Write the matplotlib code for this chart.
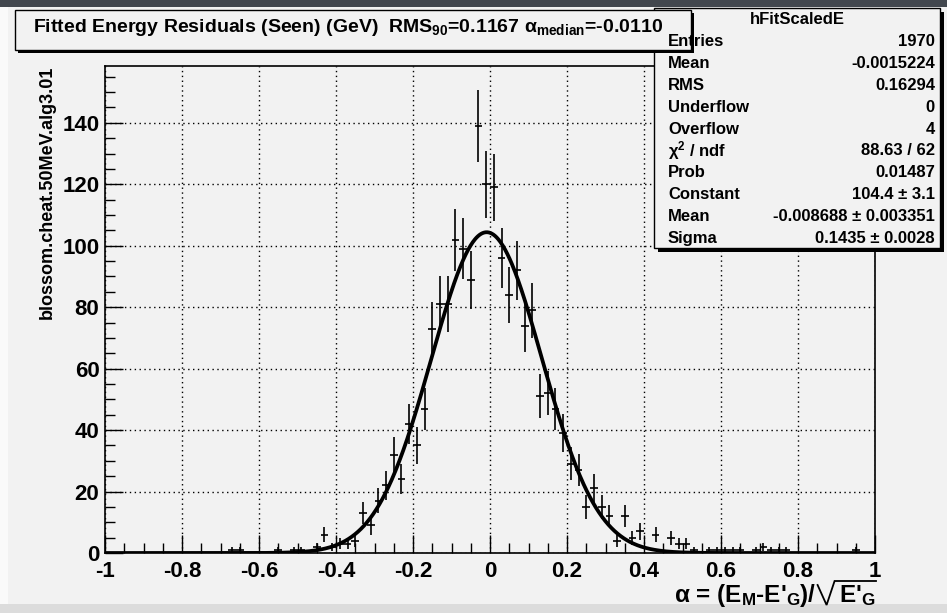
import matplotlib.pyplot as plt
import matplotlib.patches as patches
from matplotlib.ticker import MultipleLocator
import numpy as np

plt.rcParams['font.family'] = ['Liberation Sans', 'DejaVu Sans']
plt.rcParams['font.weight'] = 'bold'
plt.rcParams['mathtext.fontset'] = 'custom'
plt.rcParams['mathtext.rm'] = 'Liberation Sans:bold'
plt.rcParams['mathtext.bf'] = 'Liberation Sans:bold'
plt.rcParams['mathtext.it'] = 'Liberation Sans:bold'
plt.rcParams['mathtext.default'] = 'bf'

# histogram bins (only non-empty ones), bin width 0.02
bin_centers = [-0.67, -0.65, -0.55, -0.51, -0.49, -0.45, -0.43, -0.41, -0.39, -0.37,
               -0.35, -0.33, -0.31, -0.29, -0.27, -0.25, -0.23, -0.21, -0.19, -0.17,
               -0.15, -0.13, -0.11, -0.09, -0.07, -0.05, -0.03, -0.01, 0.01, 0.03,
               0.05, 0.07, 0.09, 0.11, 0.13, 0.15, 0.17, 0.19, 0.21, 0.23,
               0.25, 0.27, 0.29, 0.31, 0.33, 0.35, 0.37, 0.39, 0.43, 0.47,
               0.49, 0.51, 0.53, 0.57, 0.59, 0.61, 0.63, 0.65, 0.69, 0.71,
               0.73, 0.75, 0.77, 0.95]
counts = [1, 1, 1, 1, 1, 2, 6, 2, 3, 3,
          4, 13, 9, 17, 22, 32, 24, 42, 35, 47,
          73, 81, 81, 102, 99, 89, 139, 120, 119, 96,
          84, 92, 74, 79, 51, 52, 47, 39, 29, 27,
          15, 21, 15, 12, 4, 12, 5, 7, 6, 5,
          3, 3, 1, 1, 1, 1, 1, 1, 1, 2,
          1, 1, 1, 1]

# gaussian fit parameters
fit_constant = 104.4
fit_mean = -0.008688
fit_sigma = 0.1435

xtick_labels = ['-1', '-0.8', '-0.6', '-0.4', '-0.2', '0', '0.2', '0.4', '0.6', '0.8', '1']

stat_labels = ['Entries', 'Mean', 'RMS', 'Underflow', 'Overflow', r'$\chi^{2}$ / ndf',
               'Prob', 'Constant', 'Mean', 'Sigma']
stat_values = ['1970', '-0.0015224', '0.16294', '0', '4', '88.63 / 62',
               '0.01487', '104.4 \u00b1 3.1', '-0.008688 \u00b1 0.003351', '0.1435 \u00b1 0.0028']

bg = '#f2f2f2'
W, H = 947, 613
fig = plt.figure(figsize=(W / 100, H / 100), dpi=100, facecolor=bg)
ax = fig.add_axes([105 / W, 60 / H, 770 / W, 487 / H], facecolor=bg)

x = np.array(bin_centers)
y = np.array(counts, dtype=float)
ax.errorbar(x, y, xerr=0.01, yerr=np.sqrt(y), fmt='none', ecolor='black',
            elinewidth=1.2, capsize=0, zorder=3)

xs = np.linspace(-1, 1, 1000)
ax.plot(xs, fit_constant * np.exp(-0.5 * ((xs - fit_mean) / fit_sigma) ** 2),
        color='black', lw=2.7, zorder=4)

ax.set_xlim(-1, 1)
ax.set_ylim(0, 158.5)
ax.set_xticks(np.linspace(-1, 1, 11))
ax.set_xticklabels(xtick_labels)
ax.xaxis.set_minor_locator(MultipleLocator(0.05))
ax.yaxis.set_major_locator(MultipleLocator(20))
ax.yaxis.set_minor_locator(MultipleLocator(5))
ax.tick_params(which='major', direction='in', length=13, width=1, labelsize=16,
               top=False, right=False)
ax.tick_params(axis='y', which='major', pad=4)
ax.tick_params(axis='x', which='major', pad=6)
ax.tick_params(which='minor', direction='in', length=7, width=1, top=False, right=False)
ax.grid(True, which='major', color='black', linestyle=(0, (1, 2.5)), lw=1)
for s in ax.spines.values():
    s.set_linewidth(1.2)

ax.set_ylabel('blossom.cheat.50MeV.alg3.01', fontsize=13, fontweight='bold',
              loc='top', labelpad=5)

# overlay in pixel coordinates for boxes and labels
ov = fig.add_axes([0, 0, 1, 1], facecolor='none', zorder=10)
ov.set_xlim(0, W)
ov.set_ylim(H, 0)
ov.axis('off')

# window chrome
ov.add_patch(patches.Rectangle((0, 0), W, 7, color='#42474e', lw=0))
ov.add_patch(patches.Rectangle((0, 604), W, 9, color='#dcdcdc', lw=0))
ov.add_patch(patches.Rectangle((0, 7), 8, 597, color='#fafafa', lw=0))

# x axis title, ROOT style square root drawn by hand
renderer = fig.canvas.get_renderer()
t_root = ov.text(875, 602, r"E'$_{G}$", ha='right', va='baseline', fontsize=17.5)
x0 = t_root.get_window_extent(renderer).x0
ov.plot([x0 - 21, x0 - 12, x0 - 4, 876],
        [585, 605, 581, 581], color='black', lw=1.3, solid_joinstyle='miter')
ov.text(x0 - 22, 602, r"$\alpha$ = (E$_{M}$-E'$_{G}$)/", ha='right', va='baseline',
        fontsize=17.5)

# stats box
ov.add_patch(patches.Rectangle((658, 12), 286, 240, color='black', lw=0))
ov.add_patch(patches.Rectangle((654, 8), 286, 240, facecolor=bg, edgecolor='black', lw=1))
ov.text(797, 20, 'hFitScaledE', ha='center', va='center', fontsize=12)
for i, (lab, val) in enumerate(zip(stat_labels, stat_values)):
    yy = 41.7 + i * 21.85
    ov.text(668, yy, lab, ha='left', va='center', fontsize=12)
    ov.text(935, yy, val, ha='right', va='center', fontsize=12)

# title box
ov.add_patch(patches.Rectangle((18, 13), 676, 40, color='black', lw=0))
ov.add_patch(patches.Rectangle((15, 10), 676, 40, facecolor=bg, edgecolor='black', lw=1))
ov.text(348, 28, r'Fitted Energy Residuals (Seen) (GeV)  RMS$_{90}$=0.1167 $\alpha_{median}$=-0.0110',
        ha='center', va='center', fontsize=14)

fig.savefig('out.png', dpi=100, facecolor=bg)
